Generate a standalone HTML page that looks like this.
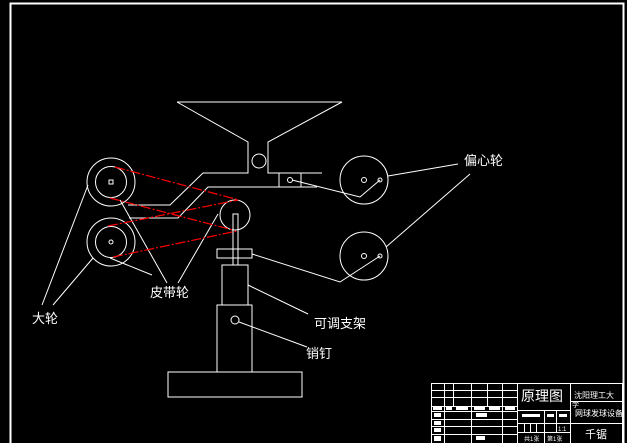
<!DOCTYPE html>
<html><head><meta charset="utf-8"><style>
html,body{margin:0;padding:0;background:#000;width:627px;height:443px;overflow:hidden}
svg{display:block}
text{font-family:"Liberation Sans","Noto Sans CJK SC",sans-serif;fill:#fff}
</style></head><body>
<svg width="627" height="443" viewBox="0 0 627 443" xmlns="http://www.w3.org/2000/svg">
<g stroke="#fff" stroke-width="1" fill="none">
<!-- frame -->
<rect x="10.5" y="3.5" width="613" height="445" stroke-width="2"/>
<!-- hopper -->
<polyline points="177,102 342,102 268,142 268,173 322,173"/>
<polyline points="177,102 248,142 248,173 203,173 170,205 128,205"/>
<circle cx="259" cy="161" r="7"/>
<rect x="279" y="173" width="22" height="14"/>
<circle cx="290" cy="180" r="2.5"/>
<polyline points="317,187 208,187 178,218 129,218"/>
<polyline points="292,180 360,197 380,180"/>
<!-- left pulleys -->
<circle cx="111" cy="182" r="24"/>
<circle cx="111" cy="182" r="15.5"/>
<rect x="109" y="180" width="4" height="4"/>
<circle cx="111" cy="242" r="24"/>
<circle cx="111" cy="242" r="15.5"/>
<circle cx="111" cy="242" r="2"/>
<!-- middle pulley & shaft -->
<circle cx="235" cy="215" r="15"/>
<rect x="233" y="214" width="5" height="51"/>
<rect x="217" y="249" width="35" height="9"/>
<rect x="222" y="265" width="26" height="40"/>
<rect x="217" y="305" width="35" height="67"/>
<circle cx="235" cy="320" r="4"/>
<rect x="168" y="372" width="134" height="25"/>
<!-- eccentric wheels -->
<circle cx="364" cy="180" r="24"/>
<circle cx="364" cy="180" r="2.5"/>
<circle cx="380" cy="180" r="2"/>
<circle cx="364" cy="256" r="24"/>
<circle cx="364" cy="256" r="2.5"/>
<circle cx="380" cy="256" r="2"/>
<polyline points="252,254 340,282 380,256"/>
<!-- leaders -->
<line x1="388" y1="176" x2="458" y2="164"/>
<line x1="470" y1="174" x2="386" y2="247"/>
<line x1="42" y1="305" x2="88" y2="185"/>
<line x1="53" y1="305" x2="93" y2="258"/>
<line x1="110" y1="258" x2="152" y2="275"/>
<line x1="120" y1="200" x2="167" y2="283"/>
<line x1="218" y1="214" x2="178" y2="283"/>
<line x1="248" y1="285" x2="308" y2="314"/>
<line x1="239" y1="322" x2="307" y2="347"/>
</g>
<!-- belts -->
<g stroke="#f00" stroke-width="1.2" fill="none" stroke-dasharray="10,2,2,2">
<line x1="115" y1="167" x2="239" y2="200"/>
<line x1="110" y1="198" x2="233" y2="230"/>
<line x1="108" y1="226" x2="238" y2="200"/>
<line x1="113" y1="257" x2="237" y2="231"/>
</g>
<g font-size="13">
<text x="464" y="165">偏心轮</text>
<text x="150" y="297">皮带轮</text>
<text x="32" y="323">大轮</text>
<text x="314" y="328">可调支架</text>
<text x="306" y="358">销钉</text>
</g>
<!-- title block -->
<g stroke="#fff" stroke-width="1" fill="none">
<rect x="431.5" y="383.5" width="191" height="60"/>
<line x1="517.5" y1="383" x2="517.5" y2="443"/>
<line x1="570.5" y1="383" x2="570.5" y2="443"/>
<line x1="444.5" y1="383" x2="444.5" y2="443"/>
<line x1="453.5" y1="383" x2="453.5" y2="406"/>
<line x1="471.5" y1="383" x2="471.5" y2="443"/>
<line x1="487.5" y1="383" x2="487.5" y2="406"/>
<line x1="502.5" y1="383" x2="502.5" y2="443"/>
<line x1="431" y1="390.5" x2="517" y2="390.5"/>
<line x1="431" y1="397.5" x2="517" y2="397.5"/>
<line x1="431" y1="406.5" x2="517" y2="406.5"/>
<line x1="431" y1="411.5" x2="517" y2="411.5"/>
<line x1="431" y1="419.5" x2="517" y2="419.5"/>
<line x1="431" y1="426.5" x2="517" y2="426.5"/>
<line x1="431" y1="434.5" x2="517" y2="434.5"/>
<line x1="517" y1="410.5" x2="570" y2="410.5"/>
<line x1="517" y1="423.5" x2="570" y2="423.5"/>
<line x1="517" y1="432.5" x2="570" y2="432.5"/>
<line x1="544.5" y1="410" x2="544.5" y2="443"/>
<line x1="556.5" y1="410" x2="556.5" y2="432"/>
<line x1="524.5" y1="423" x2="524.5" y2="432"/>
<line x1="530.5" y1="423" x2="530.5" y2="432"/>
<line x1="536.5" y1="423" x2="536.5" y2="432"/>
<line x1="570" y1="401.5" x2="623" y2="401.5"/>
<line x1="570" y1="423.5" x2="623" y2="423.5"/>
</g>
<g fill="#fff">
<rect x="433" y="407" width="9" height="3"/><rect x="446" y="407" width="6" height="3"/>
<rect x="456" y="407" width="12" height="3"/><rect x="474" y="407" width="11" height="3"/>
<rect x="489" y="407" width="11" height="3"/><rect x="505" y="407" width="10" height="3"/>
<rect x="434" y="413" width="7" height="4"/><rect x="434" y="421" width="7" height="4"/>
<rect x="434" y="428" width="7" height="4"/><rect x="434" y="436" width="7" height="5"/>
<rect x="476" y="413" width="11" height="4"/><rect x="476" y="436" width="9" height="4"/>
<rect x="522" y="414" width="18" height="3"/><rect x="547" y="414" width="7" height="3"/>
<rect x="559" y="414" width="8" height="3"/>
</g>
<text x="521" y="401" font-size="14">原理图</text>
<text x="574" y="398" font-size="8">沈阳理工大</text>
<text x="572" y="407" font-size="7">学</text>
<text x="575" y="416" font-size="8">网球发球设备</text>
<text x="585" y="438" font-size="11">千锯</text>
<text x="558" y="431" font-size="6">1:1</text>
<text x="524" y="441" font-size="6">共1张</text>
<text x="547" y="441" font-size="6">第1张</text>
</svg>
</body></html>
